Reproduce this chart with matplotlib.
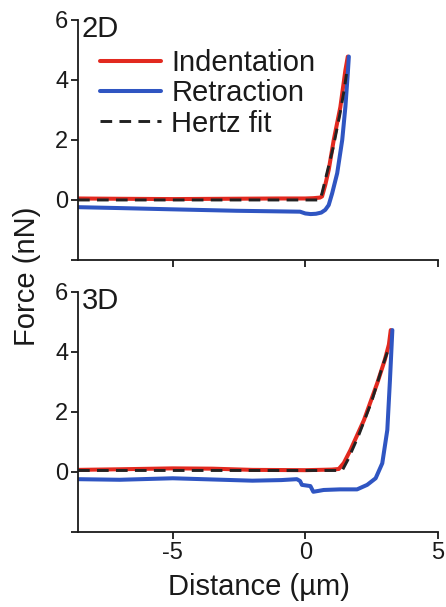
import matplotlib.pyplot as plt

plt.rcParams['font.family'] = ['Liberation Sans', 'DejaVu Sans']
plt.rcParams['axes.unicode_minus'] = False

# 2D : courbes force-distance
x_ind_2d = [-8.57, -7, -5, -3, -1, 0, 0.3, 0.55, 0.63, 0.75, 0.88, 1.07, 1.32, 1.51, 1.6]
y_ind_2d = [0.05, 0.04, 0.03, 0.04, 0.05, 0.05, 0.06, 0.08, 0.12, 0.5, 1.0, 2.0, 3.1, 4.33, 4.78]
x_ret_2d = [-8.57, -7, -5.1, -2.6, -1, -0.2, 0, 0.2, 0.4, 0.6, 0.75, 0.88, 1.01, 1.2, 1.39, 1.51, 1.6, 1.64]
y_ret_2d = [-0.24, -0.27, -0.31, -0.36, -0.38, -0.39, -0.45, -0.47, -0.46, -0.42, -0.33, -0.17, 0.22, 0.89, 2.0, 3.11, 4.22, 4.78]
x_fit_2d = [-8.57, 0.54, 0.62, 0.8, 1.05, 1.3, 1.47, 1.55]
y_fit_2d = [0, 0, 0.2, 0.85, 1.75, 2.85, 3.7, 4.2]

# 3D
x_ind_3d = [-8.57, -7, -5, -3.5, -2, 0, 1.0, 1.26, 1.45, 1.7, 2.21, 2.71, 3.0, 3.15, 3.22]
y_ind_3d = [0.07, 0.09, 0.12, 0.11, 0.07, 0.06, 0.08, 0.1, 0.3, 0.73, 1.73, 2.96, 3.75, 4.25, 4.73]
x_ret_3d = [-8.57, -7, -5, -3.5, -2, -0.9, -0.32, -0.2, -0.13, 0.19, 0.3, 0.5, 0.69, 1.3, 1.95, 2.33, 2.65, 2.9, 3.09, 3.19, 3.28]
y_ret_3d = [-0.24, -0.26, -0.21, -0.25, -0.29, -0.27, -0.24, -0.3, -0.43, -0.47, -0.66, -0.63, -0.6, -0.58, -0.58, -0.43, -0.21, 0.29, 1.4, 3.07, 4.73]
x_fit_3d = [-8.57, 1.39, 1.6, 2.0, 2.5, 2.9, 3.17]
y_fit_3d = [0.05, 0.05, 0.4, 1.2, 2.35, 3.5, 4.2]

panels = [
    ("2D", x_ind_2d, y_ind_2d, x_ret_2d, y_ret_2d, x_fit_2d, y_fit_2d),
    ("3D", x_ind_3d, y_ind_3d, x_ret_3d, y_ret_3d, x_fit_3d, y_fit_3d),
]

red = '#e2291f'
blue = '#2f55c2'
txt = '#1a1a1a'

fig = plt.figure(figsize=(4.46, 6.07), dpi=100)
ax_top = fig.add_axes([0.175, 0.5717, 0.807, 0.3954])
ax_bot = fig.add_axes([0.175, 0.1236, 0.807, 0.3954])

for ax, (name, xi, yi, xr, yr, xf, yf) in zip([ax_top, ax_bot], panels):
    ax.plot(xi, yi, color=red, lw=2.9, label="Indentation", solid_capstyle='round')
    ax.plot(xr, yr, color=blue, lw=2.9, label="Retraction", solid_capstyle='round')
    ax.plot(xf, yf, color='#222222', lw=2.1, ls=(0, (4, 2.5)), label="Hertz fit")
    ax.set_xlim(-8.57, 5)
    ax.set_ylim(-2, 6)
    ax.set_yticks([-2, 0, 2, 4, 6])
    ax.set_yticklabels(['', '0', '2', '4', '6'])
    ax.set_xticks([-5, 0, 5])
    ax.spines['top'].set_visible(False)
    ax.spines['right'].set_visible(False)
    for s in ['left', 'bottom']:
        ax.spines[s].set_linewidth(1.3)
        ax.spines[s].set_color(txt)
    ax.tick_params(direction='out', length=5, width=1.3, colors=txt, labelsize=17, pad=2)
    ax.text(0.01, 1.02, name, transform=ax.transAxes, fontsize=21, color=txt, va='top', ha='left')

ax_top.set_xticklabels([])
ax_top.legend(loc='upper left', bbox_to_anchor=(0.02, 0.94), frameon=False, fontsize=21,
              handlelength=2.1, handletextpad=0.35, labelspacing=0.08, borderpad=0,
              labelcolor=txt)

fig.text(27 / 446, 1 - 276 / 607, "Force (nN)", rotation=90, fontsize=21, color=txt,
         ha='center', va='center')
fig.text(259 / 446, 1 - 587 / 607, "Distance (µm)", fontsize=21, color=txt,
         ha='center', va='center')

fig.savefig("out.png", dpi=100)
